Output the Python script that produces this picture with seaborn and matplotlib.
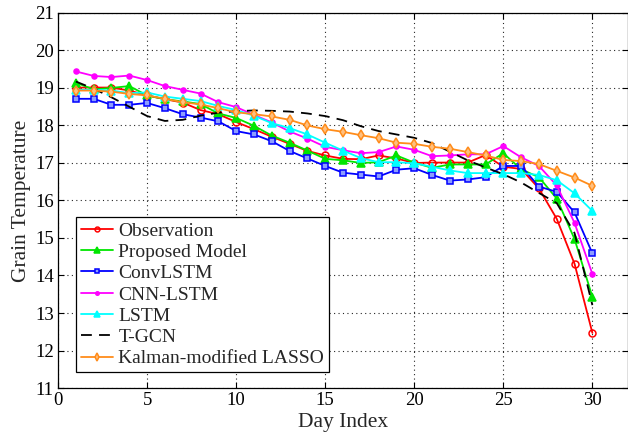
import matplotlib
matplotlib.use("Agg")
import matplotlib.pyplot as plt
import seaborn as sns

days = list(range(1, 31))

observation = [19.01, 19.01, 19.01, 18.93, 18.80, 18.70, 18.61, 18.41, 18.30, 18.09,
               17.90, 17.70, 17.51, 17.32, 17.20, 17.11, 17.10, 17.20, 17.12, 17.00,
               17.01, 17.01, 17.01, 17.21, 16.90, 16.84, 16.32, 15.51, 14.31, 12.47]
proposed = [19.14, 18.96, 19.00, 19.05, 18.80, 18.70, 18.64, 18.57, 18.32, 18.20,
            17.99, 17.73, 17.54, 17.33, 17.11, 17.07, 17.00, 17.02, 17.20, 17.01,
            16.87, 16.96, 16.96, 16.96, 17.26, 16.83, 16.62, 16.05, 14.97, 13.43]
convlstm = [18.71, 18.71, 18.55, 18.55, 18.60, 18.46, 18.30, 18.21, 18.11, 17.85,
            17.76, 17.58, 17.32, 17.12, 16.92, 16.74, 16.69, 16.64, 16.82, 16.86,
            16.68, 16.53, 16.56, 16.62, 16.92, 16.92, 16.37, 16.23, 15.68, 14.59]
cnn_lstm = [19.44, 19.32, 19.29, 19.33, 19.21, 19.05, 18.95, 18.85, 18.62, 18.49,
            18.28, 18.08, 17.84, 17.65, 17.43, 17.34, 17.26, 17.29, 17.44, 17.35,
            17.18, 17.20, 17.23, 17.23, 17.45, 17.15, 16.92, 16.40, 15.40, 14.04]
lstm = [18.95, 18.95, 18.93, 18.86, 18.88, 18.77, 18.71, 18.65, 18.52, 18.41,
        18.26, 18.06, 17.93, 17.76, 17.54, 17.33, 17.13, 17.02, 17.02, 16.99,
        16.90, 16.80, 16.73, 16.73, 16.73, 16.73, 16.68, 16.54, 16.19, 15.72]
tgcn = [19.17, 18.98, 18.75, 18.50, 18.25, 18.12, 18.15, 18.26, 18.34, 18.38,
        18.40, 18.39, 18.37, 18.32, 18.25, 18.14, 17.98, 17.85, 17.76, 17.67,
        17.53, 17.30, 17.07, 16.88, 16.70, 16.48, 16.20, 15.93, 15.13, 13.21]
kalman_lasso = [18.93, 18.93, 18.90, 18.84, 18.80, 18.71, 18.62, 18.56, 18.46, 18.35,
                18.30, 18.24, 18.15, 18.00, 17.90, 17.83, 17.74, 17.66, 17.54, 17.51,
                17.43, 17.38, 17.29, 17.20, 17.08, 17.05, 16.97, 16.79, 16.61, 16.39]

series_names = ["Observation", "Proposed Model", "ConvLSTM", "CNN-LSTM", "LSTM",
                "T-GCN", "Kalman-modified LASSO"]
series_values = [observation, proposed, convlstm, cnn_lstm, lstm, tgcn, kalman_lasso]

x_ticks = [0, 5, 10, 15, 20, 25, 30]
y_ticks = list(range(11, 22))

# line colour, marker, marker size, marker face, line style per series
styles = [
    ("#ff0000", "o", 5.0, "none", "-"),
    ("#00e600", "^", 6.0, "#00e600", "-"),
    ("#0000ff", "s", 5.0, "#8c9cff", "-"),
    ("#ff00ff", "o", 3.6, "#ff00ff", "-"),
    ("#00ffff", "^", 6.0, "#00ffff", "-"),
    ("black", "", 0.0, "none", (0, (6, 4))),
    ("#ff8c1a", "d", 5.2, "#ffc080", "-"),
]

sns.set_theme(style="ticks")
plt.rcParams["font.family"] = ["Liberation Serif", "DejaVu Serif"]

fig = plt.figure(figsize=(6.28, 4.45), dpi=100)
ax = fig.add_axes([0.0924, 0.128, 0.9076, 0.843])

for name, vals, (col, mk, ms, mfc, ls) in zip(series_names, series_values, styles):
    kw = dict(color=col, linestyle=ls, linewidth=1.3)
    if mk:
        kw.update(marker=mk, markersize=ms, markerfacecolor=mfc,
                  markeredgecolor=col, markeredgewidth=1.1)
    sns.lineplot(x=days, y=vals, ax=ax, label=name, **kw)

ax.set_xlim(0, 32)
ax.set_ylim(11, 21)
ax.set_xticks(x_ticks)
ax.set_yticks(y_ticks)
ax.grid(True, linestyle=(0, (1, 3)), color="black", linewidth=0.8, alpha=0.85)
ax.tick_params(direction="in", top=True, right=True, length=4, width=0.8,
               labelsize=13.5, colors="black", pad=3)
for sp in ax.spines.values():
    sp.set_color("black")
    sp.set_linewidth(0.9)

ax.set_xlabel("Day Index", fontsize=15.5, labelpad=3)
ax.set_ylabel("Grain Temperature", fontsize=15.5, labelpad=3)

leg = ax.legend(loc="lower left", bbox_to_anchor=(0.031, 0.042), borderaxespad=0,
                fontsize=14, handlelength=1.65, handletextpad=0.3, labelspacing=0.19,
                markerscale=0.7, fancybox=False, framealpha=1, edgecolor="black",
                borderpad=0.25)
leg.get_frame().set_linewidth(0.9)

fig.savefig("out.png", dpi=100)
